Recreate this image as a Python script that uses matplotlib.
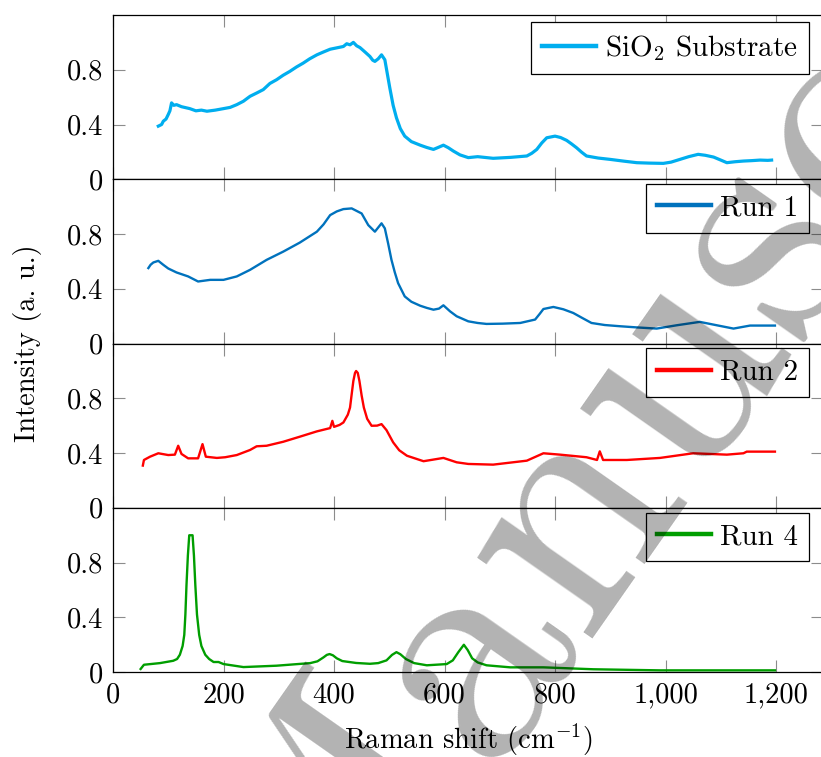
import numpy as np
import matplotlib
matplotlib.use("Agg")
import matplotlib.pyplot as plt
from matplotlib.ticker import FixedLocator, FuncFormatter

plt.rcParams['font.family'] = ['cmr10', 'DejaVu Serif']
plt.rcParams['mathtext.fontset'] = 'cm'
plt.rcParams['axes.unicode_minus'] = False
plt.rcParams['axes.formatter.use_mathtext'] = True

# ---- data (Raman shift in cm^-1, normalised intensity)
sio2_x = [82, 88, 91, 96, 100, 103, 106, 110, 115, 124, 139, 150, 160, 170, 185, 200,
          212, 224, 236, 248, 260, 272, 284, 296, 308, 320, 332, 344, 356, 369, 381,
          393, 405, 417, 423, 429, 435, 441, 447, 456, 465, 470, 474, 480, 486, 492,
          501, 507, 513, 520, 528, 540, 556, 568, 580, 590, 598, 607, 616, 628, 643,
          660, 688, 720, 749, 758, 767, 776, 785, 800, 810, 821, 830, 839, 848, 857,
          878, 900, 925, 948, 970, 996, 1010, 1026, 1042, 1059, 1072, 1087, 1100,
          1111, 1126, 1141, 1156, 1171, 1185, 1192]
sio2_y = [0.388, 0.400, 0.424, 0.440, 0.473, 0.500, 0.558, 0.540, 0.545, 0.530, 0.516,
          0.500, 0.505, 0.497, 0.505, 0.516, 0.525, 0.545, 0.570, 0.606, 0.630, 0.655,
          0.700, 0.727, 0.760, 0.788, 0.820, 0.848, 0.880, 0.909, 0.930, 0.950, 0.960,
          0.970, 0.990, 0.982, 1.000, 0.975, 0.962, 0.930, 0.897, 0.870, 0.861, 0.880,
          0.909, 0.873, 0.667, 0.540, 0.449, 0.370, 0.315, 0.275, 0.249, 0.232, 0.218,
          0.235, 0.249, 0.230, 0.206, 0.178, 0.158, 0.165, 0.153, 0.160, 0.170, 0.190,
          0.218, 0.265, 0.303, 0.315, 0.305, 0.284, 0.258, 0.230, 0.198, 0.170, 0.155,
          0.145, 0.132, 0.121, 0.118, 0.116, 0.125, 0.145, 0.165, 0.182, 0.175, 0.162,
          0.140, 0.121, 0.128, 0.133, 0.136, 0.140, 0.138, 0.140]

run1_x = [64, 68, 73, 82, 91, 100, 115, 136, 154, 176, 200, 224, 248, 278, 308, 338,
          369, 381, 393, 405, 417, 432, 450, 462, 474, 486, 492, 498, 504, 510, 516,
          528, 540, 556, 568, 580, 590, 598, 610, 622, 643, 660, 676, 705, 737, 764,
          772, 779, 797, 815, 833, 850, 866, 890, 918, 950, 984, 1020, 1062, 1093,
          1123, 1153, 1198]
run1_y = [0.551, 0.575, 0.592, 0.604, 0.575, 0.548, 0.519, 0.490, 0.453, 0.465, 0.465,
          0.490, 0.538, 0.611, 0.671, 0.737, 0.817, 0.870, 0.938, 0.965, 0.982, 0.987,
          0.950, 0.865, 0.817, 0.878, 0.841, 0.730, 0.611, 0.520, 0.441, 0.344, 0.305,
          0.276, 0.260, 0.247, 0.255, 0.279, 0.235, 0.199, 0.162, 0.150, 0.143, 0.145,
          0.150, 0.175, 0.215, 0.252, 0.267, 0.250, 0.223, 0.185, 0.150, 0.135, 0.126,
          0.117, 0.109, 0.133, 0.158, 0.133, 0.109, 0.131, 0.131]

run2_x = [54, 56, 67, 82, 100, 112, 118, 124, 136, 154, 162, 168, 188, 203, 224, 248,
          260, 278, 308, 338, 369, 393, 397, 400, 410, 417, 425, 429, 432, 435, 438,
          440, 443, 446, 450, 454, 460, 468, 478, 486, 495, 507, 518, 532, 562, 598,
          622, 643, 688, 749, 779, 809, 857, 876, 881, 887, 930, 990, 1050, 1111,
          1141, 1147, 1198]
run2_y = [0.308, 0.349, 0.373, 0.398, 0.385, 0.388, 0.453, 0.393, 0.361, 0.361, 0.465,
          0.373, 0.364, 0.369, 0.385, 0.422, 0.449, 0.453, 0.482, 0.519, 0.558, 0.582,
          0.635, 0.591, 0.605, 0.623, 0.680, 0.732, 0.830, 0.926, 0.985, 0.999, 0.985,
          0.926, 0.820, 0.732, 0.650, 0.599, 0.600, 0.611, 0.567, 0.478, 0.420, 0.380,
          0.340, 0.364, 0.332, 0.320, 0.315, 0.344, 0.398, 0.388, 0.369, 0.349, 0.412,
          0.349, 0.349, 0.364, 0.398, 0.388, 0.398, 0.410, 0.410]

run4_x = [50, 56, 85, 109, 116, 121, 126, 129, 131, 133, 135.5, 138, 144, 146.5, 149,
          152, 156, 160, 167, 174, 182, 191, 200, 236, 296, 357, 370, 381, 387, 392,
          398, 405, 415, 440, 465, 480, 495, 505, 513, 520, 530, 545, 568, 604, 615,
          625, 635, 642, 650, 660, 676, 719, 779, 869, 990, 1198]
run4_y = [0.022, 0.053, 0.065, 0.082, 0.095, 0.126, 0.190, 0.271, 0.420, 0.635, 0.850,
          0.999, 0.999, 0.850, 0.635, 0.420, 0.271, 0.190, 0.126, 0.095, 0.073, 0.073,
          0.058, 0.036, 0.046, 0.065, 0.078, 0.107, 0.125, 0.131, 0.122, 0.100, 0.080,
          0.066, 0.060, 0.065, 0.085, 0.125, 0.145, 0.130, 0.095, 0.065, 0.049, 0.058,
          0.085, 0.145, 0.199, 0.160, 0.100, 0.070, 0.049, 0.034, 0.034, 0.020, 0.012,
          0.012]

series = [
    (sio2_x, sio2_y, '#00AEEF', r'SiO$_2$ Substrate', 2.3),
    (run1_x, run1_y, '#0072BD', 'Run 1', 1.7),
    (run2_x, run2_y, '#FF0000', 'Run 2', 1.7),
    (run4_x, run4_y, '#009E00', 'Run 4', 1.7),
]
legend_y = [0.957, 0.970, 0.970, 0.970]

xticks = [0, 200, 400, 600, 800, 1000, 1200]
yticks = [0, 0.4, 0.8]

fig = plt.figure(figsize=(8.21, 7.57), dpi=100)
axes = fig.subplots(4, 1, sharex=True)
fig.subplots_adjust(left=113/821, right=823/821, top=1-15/757, bottom=1-672/757,
                    hspace=0)

def fmt_x(v, pos):
    return '{:,.0f}'.format(v)

def fmt_y(v, pos):
    return '0' if v == 0 else '{:.1f}'.format(v)

for i, (ax, (xs, ys, col, lab, lw)) in enumerate(zip(axes, series)):
    ax.plot(xs, ys, color=col, lw=lw, label=lab, solid_joinstyle='round')
    ax.set_xlim(0, 1285)
    ax.set_ylim(0, 1.2)
    ax.xaxis.set_major_locator(FixedLocator(xticks))
    ax.yaxis.set_major_locator(FixedLocator(yticks))
    ax.xaxis.set_major_formatter(FuncFormatter(fmt_x))
    ax.yaxis.set_major_formatter(FuncFormatter(fmt_y))
    ax.tick_params(direction='in', length=8.5, width=0.8, color='#8c8c8c',
                   top=True, right=True, labelsize=20.5)
    ax.tick_params(axis='y', pad=7)
    ax.tick_params(axis='x', pad=7)
    for sp in ax.spines.values():
        sp.set_linewidth(0.9)
        sp.set_color('black')
    leg = ax.legend(loc='upper right', bbox_to_anchor=(0.980, legend_y[i]),
                    borderaxespad=0, fontsize=21, frameon=True, fancybox=False,
                    framealpha=1, edgecolor='black', handlelength=1.85,
                    handletextpad=0.3, borderpad=0.38)
    leg.get_frame().set_linewidth(0.9)
    for h in leg.get_lines():
        h.set_linewidth(3.2)
    if i < 3:
        ax.tick_params(labelbottom=False)

fig.text(27/821, 1 - 343/757, 'Intensity (a. u.)', rotation=90, fontsize=20.5,
         ha='center', va='center')
fig.text(468/821, 1 - 740/757, r'Raman shift (cm$^{-1}$)', fontsize=20.5,
         ha='center', va='center')

# watermark
fig.text(0.3873, -0.3408, 'Manuscript', fontsize=235, rotation=55,
         rotation_mode='anchor', ha='left', va='baseline', color='black',
         alpha=0.3, zorder=10)

fig.savefig('out.png', dpi=100)
